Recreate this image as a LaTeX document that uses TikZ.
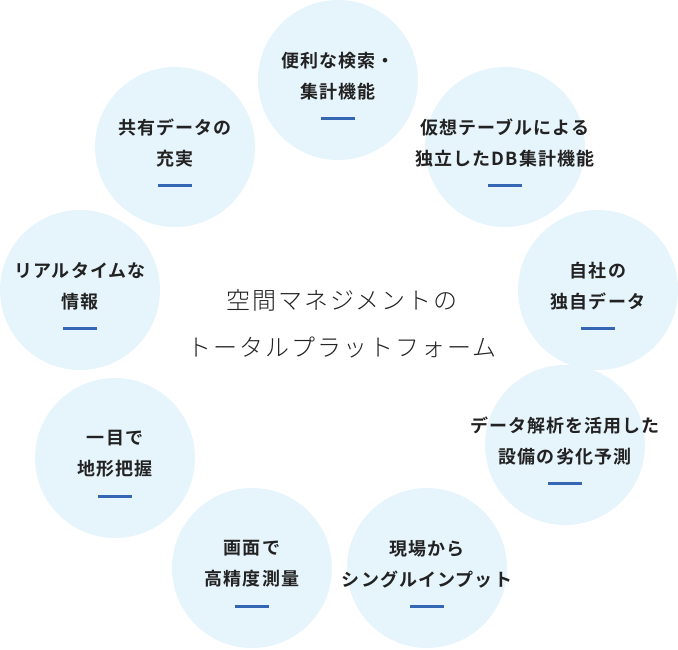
\documentclass[tikz,border=0pt]{standalone}
\usepackage{fontspec}
\newfontfamily\jp[LetterSpace=8]{Noto Sans CJK JP Light}
\newfontfamily\jpb[LetterSpace=6]{Noto Sans CJK JP Bold}
\definecolor{cbg}{HTML}{E6F4FC}
\definecolor{bar}{HTML}{3566B3}
\definecolor{txt}{HTML}{222222}
\begin{document}
\begin{tikzpicture}[x=1pt,y=-1pt,
  bub/.style={circle,fill=cbg,minimum size=160pt,inner sep=0pt},
  lab/.style={align=center,font=\jpb\fontsize{18}{31}\selectfont,text=txt},
  barline/.style={draw=bar,line width=3pt}]
\useasboundingbox (0,0) rectangle (678,649);
\foreach \n/\x/\y/\t in {a/338/80/{便利な検索・\\集計機能},
  b/175/147/{共有データの\\充実},
  c/505/147/{仮想テーブルによる\\独立したDB集計機能},
  d/80/290/{リアルタイムな\\情報},
  e/598/290/{自社の\\独自データ},
  f/115/458/{一目で\\地形把握},
  g/565/445/{データ解析を活用した\\設備の劣化予測},
  h/252/568/{画面で\\高精度測量},
  i/427/568/{現場から\\シングルインプット}}{
  \node[bub] (\n) at (\x,\y) {};
  \node[lab] (\n t) at (\x,\y-4) {\t};
  \draw[barline] ([xshift=-17pt,yshift=-38pt]\n.center) coordinate (\n l) -- ([xshift=17pt,yshift=-38pt]\n.center) coordinate (\n r);
}
\node[align=center,font=\jp\fontsize{24}{47}\selectfont,text=txt] (center) at (342,324) {空間マネジメントの\\トータルプラットフォーム};
\end{tikzpicture}
\end{document}
